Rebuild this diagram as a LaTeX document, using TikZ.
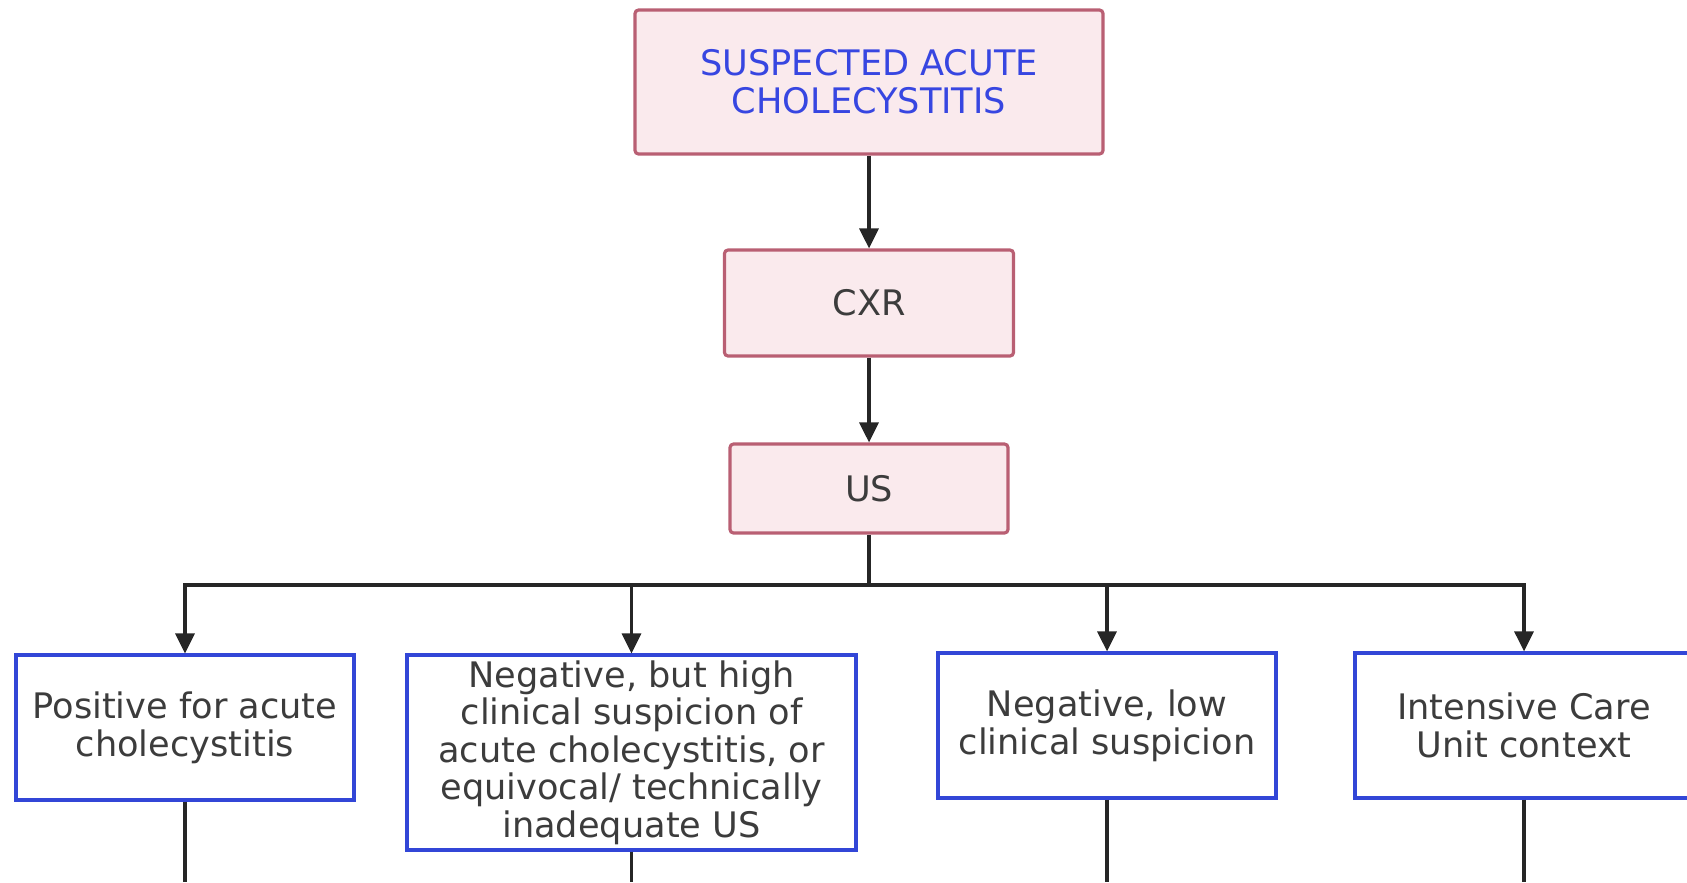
\documentclass[tikz,border=0pt]{standalone}
\usepackage{fontspec}
\setmainfont{DejaVu Sans}
\usepackage{tikz}
\usetikzlibrary{arrows.meta,positioning}
\usepackage{xcolor}
\definecolor{cPinkFill}{RGB}{250,234,237}
\definecolor{cPinkLine}{RGB}{185,95,115}
\definecolor{cBlueLine}{RGB}{50,70,215}
\definecolor{cTitle}{RGB}{55,70,225}
\definecolor{cText}{RGB}{60,60,60}

\begin{document}
\begin{tikzpicture}[
    step box/.style={rectangle,draw=cPinkLine,fill=cPinkFill,line width=0.9pt,rounded corners=1pt,
      text=cText,align=center,font=\fontsize{10}{10.7}\selectfont},
    result box/.style={rectangle,draw=cBlueLine,fill=white,line width=0.9pt,
      text=cText,align=center,font=\fontsize{10}{10.7}\selectfont,minimum width=3.38cm,minimum height=1.45cm},
    link/.style={draw=black!85,line width=0.9pt},
    >={Triangle[length=2mm,width=1.9mm]}
  ]
  \useasboundingbox (0,0) rectangle (16.87,8.82);
  % top of the pathway
  \node[step box,text=cTitle,minimum width=4.68cm,minimum height=1.44cm] (susp) at (8.69,8.00) {SUSPECTED ACUTE\\CHOLECYSTITIS};
  \node[step box,minimum width=2.89cm,minimum height=1.06cm] (cxr) at (8.69,5.79) {CXR};
  \node[step box,minimum width=2.78cm,minimum height=0.89cm] (us) at (8.69,3.935) {US};

  % US outcomes
  \node[result box] (pos) at (1.85,1.545) {Positive for acute\\cholecystitis};
  \node[result box,minimum width=4.49cm,minimum height=1.95cm,inner ysep=0.5pt] (equiv) at (6.315,1.295)
    {Negative, but high\\clinical suspicion of\\acute cholecystitis, or\\equivocal/ technically\\inadequate US};
  \node[result box] (neg) at (11.07,1.565) {Negative, low\\clinical suspicion};
  \node[result box] (icu) at (15.24,1.565) {Intensive Care\\Unit context};

  \draw[link,->] (susp) -- (cxr);
  \draw[link,->] (cxr) -- (us);
  \coordinate (split) at (8.69,2.97);
  \draw[link] (us) -- (split);
  \foreach \b in {pos,equiv,neg,icu}{
    \draw[link,->] (split) -| (\b.north);
    \coordinate (\b-out) at (\b.south |- 0,0);
    \draw[link] (\b) -- (\b-out);
  }
\end{tikzpicture}
\end{document}
